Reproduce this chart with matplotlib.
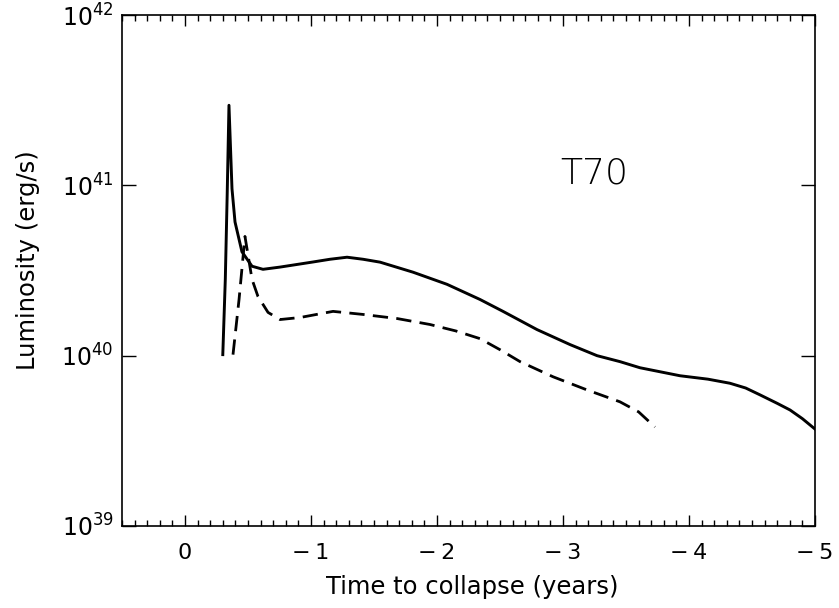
import numpy as np
import matplotlib
matplotlib.use("Agg")
import matplotlib.pyplot as plt
from matplotlib.ticker import MultipleLocator, NullLocator, FixedLocator

# solid curve: time to collapse (years), log10 luminosity
t_solid = [-0.30, -0.32, -0.335, -0.349, -0.373, -0.397, -0.452, -0.532, -0.619, -0.754,
           -1.016, -1.151, -1.286, -1.413, -1.548, -1.810, -2.079, -2.341, -2.524,
           -2.794, -3.056, -3.270, -3.452, -3.611, -3.929, -4.15, -4.325, -4.45, -4.563,
           -4.70, -4.802, -4.90, -5.0]
logL_solid = [40.006, 40.45, 40.95, 41.47, 40.98, 40.785, 40.61, 40.525, 40.507, 40.52,
              40.55, 40.566, 40.578, 40.566, 40.549, 40.490, 40.419, 40.330, 40.260,
              40.153, 40.065, 40.000, 39.965, 39.929, 39.882, 39.862, 39.838, 39.81, 39.770,
              39.72, 39.681, 39.63, 39.569]

# dashed curve
t_dash = [-0.381, -0.429, -0.476, -0.532, -0.579, -0.659, -0.754, -0.913, -1.175, -1.413,
          -1.683, -1.944, -2.15, -2.341, -2.50, -2.659, -2.921, -3.190, -3.452, -3.60, -3.730]
logL_dash = [40.006, 40.33, 40.70, 40.448, 40.348, 40.254, 40.212, 40.224, 40.26, 40.242,
             40.218, 40.183, 40.145, 40.100, 40.035, 39.965, 39.876, 39.799, 39.729, 39.67, 39.581]

xtick_vals = [0, -1, -2, -3, -4, -5]
xtick_labels = ["0", "\u2212\u20091", "\u2212\u20092", "\u2212\u20093", "\u2212\u20094", "\u2212\u20095"]

fig = plt.figure(figsize=(8.39, 6.08), dpi=100)
ax = fig.add_axes([0.1454, 0.1349, 0.8260, 0.8404])

ax.plot(t_solid, 10 ** np.array(logL_solid), color="black", lw=2.1)
ax.plot(t_dash, 10 ** np.array(logL_dash), color="black", lw=2.0, linestyle=(0, (5.5, 3)))

ax.set_yscale("log")
ax.set_xlim(0.5, -5)
ax.set_ylim(1e39, 1e42)

ax.xaxis.set_minor_locator(MultipleLocator(0.1))
ax.yaxis.set_major_locator(FixedLocator([1e39, 1e40, 1e41, 1e42]))
ax.yaxis.set_minor_locator(NullLocator())
ax.set_xticks(xtick_vals)
ax.set_xticklabels(xtick_labels)

ax.tick_params(which="both", direction="in", top=True, right=True, labelsize=16, pad=12)
ax.tick_params(axis="x", which="major", length=8, width=1)
ax.tick_params(axis="x", which="minor", length=4, width=1)
ax.tick_params(axis="y", which="major", length=10, width=1, pad=6, labelsize=17)
for s in ax.spines.values():
    s.set_linewidth(1.2)

ax.set_xlabel("Time to collapse (years)", fontsize=17.5)
ax.set_ylabel("Luminosity (erg/s)", fontsize=17.5)
ax.xaxis.set_label_coords(0.505, -0.095)
ax.yaxis.set_label_coords(-0.118, 0.52)

ax.text(-3.25, 10 ** 41.07, "T70", fontsize=26, ha="center", va="center", fontweight="light")

fig.savefig("out.png", dpi=100)
